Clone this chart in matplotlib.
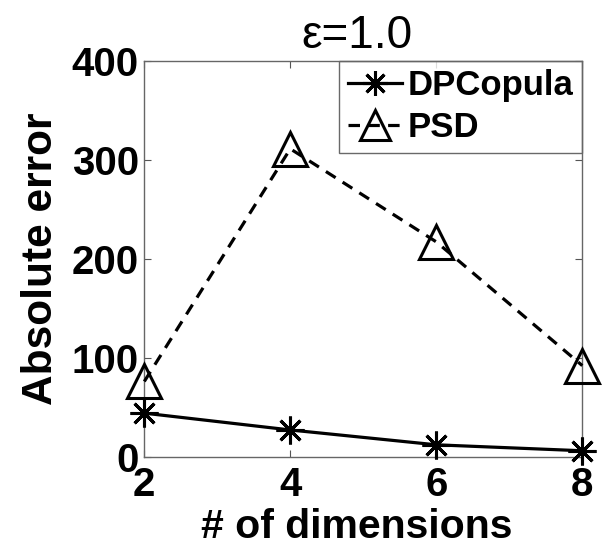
import matplotlib
matplotlib.use("Agg")
import matplotlib.pyplot as plt

plt.rcParams['font.family'] = ['Liberation Sans', 'DejaVu Sans']

# absolute error vs. number of dimensions, epsilon = 1.0
dims = [2, 4, 6, 8]
dpcopula = [44, 27, 12, 6]
psd = [76, 311, 217, 92]

W, H = 613, 549
fig = plt.figure(figsize=(W / 100, H / 100), dpi=100)
# axes box in pixels: left 144, right 582, top 61, bottom 457
ax = fig.add_axes([144.3 / W, 1 - 456.7 / H, 438 / W, 396 / H])

ax.plot(dims, dpcopula, color='k', lw=2.3, marker=(8, 2, 0), ms=20, mew=2.2,
        label='DPCopula', clip_on=False, zorder=3)
ax.plot(dims, psd, color='k', lw=2.3, ls=(0, (3.6, 2.6)), marker='^', ms=24,
        mew=2.2, mfc='none', label='PSD', clip_on=False, zorder=3)

ax.set_xlim(2, 8)
ax.set_ylim(0, 400)
ax.set_xticks(dims)
ax.set_yticks([0, 100, 200, 300, 400])
ax.tick_params(direction='in', top=True, right=True, length=5, width=0.8,
               color='#555555', labelsize=29)
ax.tick_params(axis='x', pad=7)
ax.tick_params(axis='y', pad=4)
for lbl in ax.get_xticklabels() + ax.get_yticklabels():
    lbl.set_fontweight('bold')
for sp in ax.spines.values():
    sp.set_color('#666666')
    sp.set_linewidth(1)

ax.set_title('ε=1.0', fontsize=33, pad=9, x=0.485)
ax.set_xlabel('# of dimensions', fontsize=29.5, fontweight='bold', labelpad=2)
ax.xaxis.set_label_coords(0.485, -0.13)
ax.set_ylabel('Absolute error', fontsize=30.5, fontweight='bold', labelpad=8)

leg = ax.legend(loc='upper right', prop={'weight': 'bold', 'size': 25},
                frameon=True, fancybox=False, borderaxespad=0, handlelength=1.55,
                handletextpad=0.17, borderpad=0.25, labelspacing=0.25,
                markerscale=0.9)
leg.get_frame().set_edgecolor('#444444')
leg.get_frame().set_linewidth(1)
leg.set_zorder(2)

fig.savefig('out.png', dpi=100)
